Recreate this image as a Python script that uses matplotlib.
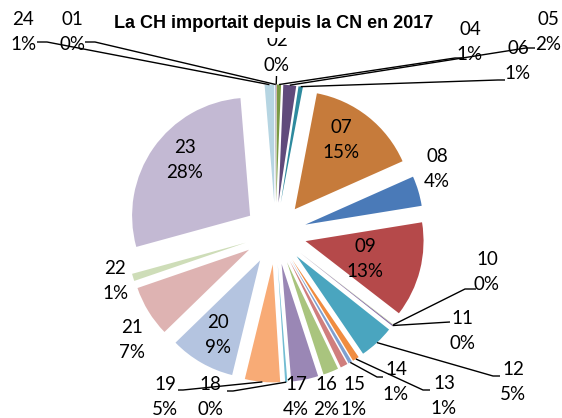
import matplotlib
matplotlib.use("Agg")
import matplotlib.pyplot as plt
import numpy as np

# ---- data ----
categories = ["01", "02", "04", "05", "06", "07", "08", "09", "10", "11", "12", "13",
              "14", "15", "16", "17", "18", "19", "20", "21", "22", "23", "24"]
shares = [0.05, 0.05, 0.55, 1.75, 0.6, 15.3, 4.1, 13.0, 0.05, 0.15, 4.8, 0.9,
          0.5, 1.0, 2.1, 3.7, 0.3, 4.8, 8.9, 7.0, 1.0, 27.9, 1.3]
pct_labels = [0, 0, 1, 2, 1, 15, 4, 13, 0, 0, 5, 1,
              1, 1, 2, 4, 0, 5, 9, 7, 1, 28, 1]
title = "La CH importait depuis la CN en 2017"

# ---- style ----
colors = ["#376092", "#953735", "#7A9A44", "#604A7B", "#2E8A9E", "#C67B3B",
          "#4A7AB8", "#B5494A", "#9BBB59", "#8064A2", "#4AA5BF", "#F08C40",
          "#7F9FD0", "#D07E7D", "#A9C47E", "#9A87B5", "#72BCD2", "#F8AB76",
          "#B4C4E0", "#DEB3B2", "#CEDDB8", "#C3B9D3", "#B6D5E2"]

W, H = 562, 418
CX, CY = 275.5, 233.5       # pie centre in pixel coords (y from top)
R, EXPL = 118, 31

# label block centres (pixel coords, y from top)
label_pos = {
    "24": (23, 32), "01": (72, 32), "02": (277, 53),
    "04": (470, 42), "05": (548, 32), "06": (518, 61),
    "07": (341, 140), "08": (437, 169), "09": (365, 259),
    "10": (487, 272), "11": (462, 331), "12": (513, 382),
    "13": (444, 396), "14": (396, 382), "15": (354, 397),
    "16": (326, 397), "17": (296, 397), "18": (210, 397),
    "19": (165, 397), "20": (218, 335), "21": (132, 340),
    "22": (115, 281), "23": (185, 160),
}
# leader elbow points (from label side towards slice)
leaders = {
    "24": [(37, 42), (47, 42)],
    "01": [(85, 42), (95, 42)],
    "02": [(276.5, 76)],
    "04": [(462, 58), (455, 58)],
    "05": [(535, 48), (526, 48)],
    "06": [(505, 80), (498, 80)],
    "10": [(476, 289), (465, 289)],
    "11": [(450, 322)],
    "12": [(500, 376), (493, 376)],
    "13": [(430, 390), (423, 390)],
    "14": [(383, 377), (377, 377)],
    "18": [(227, 391), (233, 391)],
    "19": [(178, 390), (183, 390)],
}

def Y(y):
    return H - y

fig = plt.figure(figsize=(W / 100, H / 100), dpi=100)
ax = fig.add_axes([0, 0, 1, 1])
wedges, _ = ax.pie(shares, colors=colors, startangle=90, counterclock=False,
                   center=(CX, Y(CY)), radius=R, explode=[EXPL] * len(shares),
                   wedgeprops=dict(linewidth=0))
ax.set_xlim(0, W)
ax.set_ylim(0, H)
ax.set_aspect("equal")
ax.axis("off")

font = dict(family=["Lato", "DejaVu Sans"], fontsize=13.5, color="black")

for w, cat, pct in zip(wedges, categories, pct_labels):
    lx, ly = label_pos[cat]
    ax.text(lx, Y(ly - 12.5), cat, ha="center", va="center", zorder=4, **font)
    ax.text(lx, Y(ly + 12.5), f"{pct}%", ha="center", va="center", zorder=4, **font)
    if cat in leaders:
        mid = np.deg2rad((w.theta1 + w.theta2) / 2)
        ax_x = w.center[0] + w.r * np.cos(mid)
        ax_y = w.center[1] + w.r * np.sin(mid)
        pts = [(x, Y(y)) for x, y in leaders[cat]] + [(ax_x, ax_y)]
        xs, ys = zip(*pts)
        ax.plot(xs, ys, color="black", lw=1.0, zorder=3, solid_capstyle="butt")

ax.text(274, Y(23), title, ha="center", va="center", fontsize=13,
        fontweight="bold", family=["Liberation Sans", "DejaVu Sans"], zorder=10,
        bbox=dict(facecolor="white", edgecolor="none", pad=5))

fig.savefig("out.png", dpi=100)
